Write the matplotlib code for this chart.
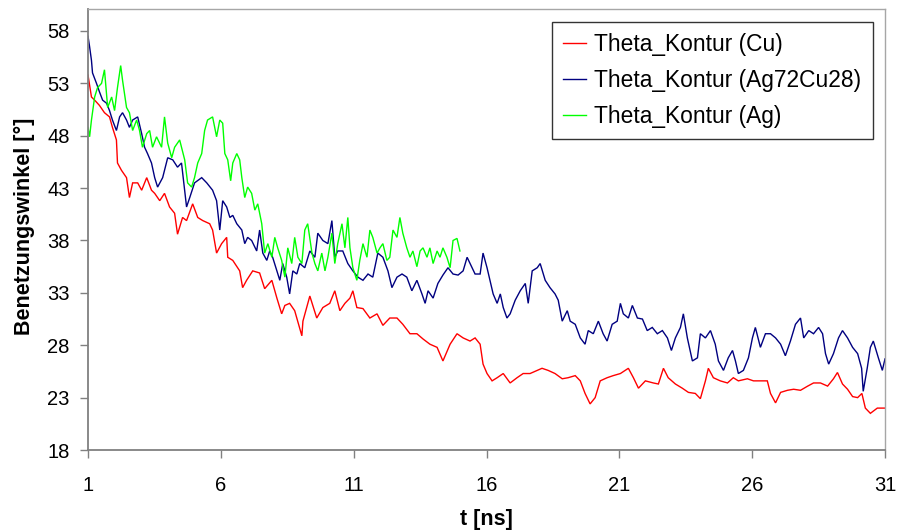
import matplotlib
matplotlib.use("Agg")
import matplotlib.pyplot as plt

# Benetzungswinkel über der Zeit für drei Tropfenzusammensetzungen
t_cu = [1.0, 1.13, 1.25, 1.43, 1.62, 1.81, 1.92, 2.07, 2.11, 2.26, 2.45, 2.56, 2.68, 2.87, 3.02,
        3.21, 3.39, 3.51, 3.70, 3.88, 4.07, 4.26, 4.37, 4.56, 4.71, 4.94, 5.13, 5.32, 5.58, 5.69,
        5.84, 6.03, 6.22, 6.26, 6.45, 6.71, 6.82, 6.97, 7.20, 7.46, 7.65, 7.92, 8.11, 8.29, 8.41,
        8.59, 8.78, 8.97, 9.05, 9.09, 9.35, 9.61, 9.84, 10.10, 10.29, 10.48, 10.67, 10.86, 10.97,
        11.12, 11.35, 11.61, 11.88, 12.10, 12.36, 12.63, 12.85, 13.12, 13.38, 13.61, 13.87, 14.14,
        14.36, 14.63, 14.89, 15.12, 15.38, 15.57, 15.76, 15.87, 16.02, 16.21, 16.40, 16.63, 16.89,
        17.15, 17.38, 17.64, 17.91, 18.09, 18.32, 18.58, 18.85, 19.07, 19.34, 19.53, 19.71, 19.90,
        20.09, 20.28, 20.54, 20.77, 21.04, 21.34, 21.53, 21.72, 21.98, 22.28, 22.47, 22.66, 22.84,
        23.11, 23.37, 23.60, 23.86, 24.05, 24.24, 24.35, 24.54, 24.80, 25.07, 25.29, 25.48, 25.82,
        26.05, 26.31, 26.57, 26.69, 26.88, 27.07, 27.33, 27.56, 27.82, 28.09, 28.31, 28.57, 28.84,
        29.06, 29.21, 29.40, 29.59, 29.78, 29.97, 30.13, 30.26, 30.45, 30.71, 31.0]
theta_cu = [53.8, 51.7, 51.4, 50.9, 50.2, 49.8, 48.8, 47.6, 45.4, 44.7, 44.0, 42.1, 43.5, 43.5, 42.8,
            44.0, 42.8, 42.5, 41.8, 42.5, 41.2, 40.6, 38.6, 40.2, 39.9, 41.5, 40.2, 39.9, 39.6, 39.0,
            36.8, 37.7, 38.3, 36.4, 36.1, 35.1, 33.5, 34.2, 35.1, 34.9, 33.4, 34.2, 32.5, 31.0, 31.8,
            32.0, 31.3, 29.6, 28.9, 30.3, 32.7, 30.6, 31.6, 32.0, 33.2, 31.3, 32.0, 32.5, 33.2,
            31.6, 31.5, 30.6, 31.0, 29.9, 30.6, 30.6, 30.0, 29.1, 29.1, 28.6, 28.1, 27.8,
            26.5, 28.1, 29.1, 28.7, 28.4, 28.7, 28.1, 26.2, 25.3, 24.6, 24.9, 25.3, 24.4,
            24.9, 25.3, 25.3, 25.6, 25.8, 25.6, 25.3, 24.8, 24.9, 25.1, 24.6, 23.4, 22.4,
            23.0, 24.6, 24.9, 25.1, 25.3, 25.8, 24.9, 23.9, 24.6, 24.4, 24.3, 25.8, 24.9,
            24.3, 23.9, 23.5, 23.4, 22.9, 24.6, 25.8, 24.9, 24.6, 24.4, 24.9, 24.6, 24.8,
            24.6, 24.6, 24.6, 23.4, 22.5, 23.5, 23.7, 23.8, 23.7, 24.1, 24.4, 24.4, 24.1,
            24.8, 25.4, 24.3, 23.8, 23.1, 23.0, 23.4, 22.0, 21.5, 22.0, 22.0]

t_agcu = [1.0, 1.06, 1.13, 1.17, 1.32, 1.43, 1.55, 1.70, 1.81, 1.92, 2.07, 2.19, 2.30, 2.45, 2.56,
          2.68, 2.87, 3.02, 3.13, 3.24, 3.39, 3.51, 3.62, 3.81, 4.00, 4.19, 4.37, 4.52, 4.71, 4.83,
          5.01, 5.28, 5.47, 5.69, 5.84, 5.96, 6.07, 6.22, 6.34, 6.45, 6.60, 6.79, 6.90, 7.01, 7.16,
          7.35, 7.46, 7.58, 7.73, 7.84, 7.95, 8.11, 8.22, 8.33, 8.48, 8.59, 8.71, 8.86, 8.97, 9.16,
          9.35, 9.54, 9.65, 9.84, 10.03, 10.18, 10.29, 10.40, 10.59, 10.78, 10.97, 11.16, 11.35,
          11.54, 11.72, 11.91, 12.10, 12.29, 12.44, 12.63, 12.82, 13.00, 13.19, 13.38, 13.57, 13.69,
          13.80, 13.99, 14.17, 14.36, 14.55, 14.74, 14.93, 15.12, 15.27, 15.46, 15.57, 15.76, 15.87,
          16.02, 16.13, 16.25, 16.40, 16.52, 16.63, 16.77, 16.89, 17.08, 17.27, 17.46, 17.57, 17.72,
          17.91, 18.02, 18.21, 18.39, 18.58, 18.70, 18.85, 19.04, 19.15, 19.34, 19.53, 19.71, 19.83,
          20.02, 20.21, 20.39, 20.54, 20.73, 20.92, 21.04, 21.15, 21.34, 21.49, 21.68, 21.87, 22.05,
          22.24, 22.43, 22.62, 22.81, 22.96, 23.11, 23.30, 23.41, 23.56, 23.75, 23.94, 24.05, 24.24,
          24.43, 24.61, 24.73, 24.92, 25.10, 25.26, 25.37, 25.48, 25.67, 25.86, 26.01, 26.12, 26.31,
          26.50, 26.69, 26.88, 27.07, 27.25, 27.44, 27.63, 27.82, 27.94, 28.13, 28.31, 28.50, 28.65,
          28.76, 28.88, 29.06, 29.25, 29.40, 29.59, 29.78, 29.97, 30.12, 30.18, 30.33, 30.45, 30.56,
          30.75, 30.90, 31.0]
theta_agcu = [57.5, 56.5, 55.2, 54.0, 53.0, 52.2, 51.4, 51.1, 50.4, 49.5, 48.5, 49.8, 50.2, 49.5, 48.8,
              49.5, 49.8, 48.2, 46.9, 46.3, 45.4, 44.0, 43.1, 44.0, 45.9, 45.7, 45.0, 45.4, 41.2, 42.1,
              43.5, 44.0, 43.5, 42.8, 41.8, 39.0, 41.8, 41.2, 40.2, 40.4, 39.6, 39.0, 37.7, 38.3, 38.0,
              37.0, 39.0, 36.8, 36.1, 37.0, 36.4, 35.1, 34.2, 35.8, 34.5, 32.9, 35.1, 34.8, 35.8, 35.4,
              37.0, 36.4, 38.7, 38.0, 37.7, 39.9, 36.4, 37.0, 37.0, 35.8, 35.1, 34.5, 34.2,
              34.8, 34.5, 36.8, 36.4, 35.1, 33.5, 34.5, 34.8, 34.5, 33.2, 34.2, 32.9, 32.0,
              33.2, 32.5, 33.9, 34.7, 35.4, 34.8, 34.7, 35.1, 36.4, 35.4, 34.8, 34.8, 36.8,
              35.4, 34.2, 32.9, 32.0, 32.9, 31.6, 30.6, 31.0, 32.3, 33.2, 33.9, 32.0, 35.1,
              35.4, 35.8, 34.2, 33.5, 32.9, 32.3, 30.3, 31.3, 30.3, 30.0, 28.7, 28.1, 29.4,
              29.1, 30.3, 29.1, 28.4, 30.0, 30.3, 32.0, 31.0, 30.6, 31.8, 30.6, 30.5, 29.4,
              29.7, 29.1, 29.4, 28.7, 27.5, 28.7, 29.7, 31.0, 28.7, 26.5, 26.8, 29.1, 28.7,
              29.4, 28.1, 26.5, 25.6, 26.8, 27.5, 26.5, 25.3, 25.6, 26.8, 28.7, 29.7, 27.8,
              29.1, 29.1, 28.7, 28.1, 27.0, 28.4, 30.0, 30.6, 28.7, 29.4, 29.1, 29.7, 29.1,
              27.2, 26.2, 27.2, 28.7, 29.4, 28.7, 27.8, 27.2, 25.8, 23.6, 25.8, 27.8, 28.4,
              26.8, 25.6, 26.7]

t_ag = [1.0, 1.06, 1.13, 1.25, 1.36, 1.51, 1.62, 1.74, 1.89, 2.00, 2.11, 2.23, 2.30, 2.45, 2.56,
        2.68, 2.83, 2.94, 3.05, 3.21, 3.32, 3.43, 3.58, 3.77, 3.88, 4.00, 4.15, 4.26, 4.45, 4.64,
        4.75, 4.90, 5.01, 5.13, 5.28, 5.39, 5.50, 5.69, 5.84, 5.96, 6.07, 6.15, 6.26, 6.37, 6.45,
        6.60, 6.71, 6.79, 6.90, 7.01, 7.16, 7.28, 7.39, 7.54, 7.65, 7.77, 7.92, 8.03, 8.14, 8.29,
        8.41, 8.52, 8.67, 8.78, 8.90, 9.05, 9.16, 9.27, 9.43, 9.54, 9.65, 9.80, 9.92, 10.03, 10.18,
        10.29, 10.40, 10.56, 10.67, 10.78, 10.86, 10.97, 11.12, 11.23, 11.35, 11.50, 11.61, 11.72,
        11.88, 11.99, 12.10, 12.25, 12.36, 12.48, 12.63, 12.74, 12.85, 13.00, 13.12, 13.23, 13.38,
        13.50, 13.61, 13.76, 13.87, 13.99, 14.14, 14.25, 14.36, 14.51, 14.63, 14.74, 14.89, 15.00]
theta_ag = [48.8, 47.9, 49.5, 51.7, 52.6, 53.0, 54.3, 50.7, 51.7, 50.4, 52.6, 54.7, 53.3, 50.7, 50.2,
            48.5, 49.5, 48.5, 46.9, 48.2, 48.5, 46.9, 47.9, 46.9, 49.8, 47.3, 45.9, 46.9, 47.6, 45.7,
            43.5, 43.1, 44.0, 45.4, 46.3, 48.5, 49.5, 49.8, 47.9, 49.5, 49.2, 46.3, 45.7, 43.7, 45.4,
            46.3, 45.7, 44.0, 42.1, 43.1, 42.5, 40.9, 41.5, 39.6, 36.8, 37.7, 36.4, 38.3, 37.3, 36.1,
            34.5, 37.3, 35.8, 38.3, 36.4, 35.8, 39.0, 39.6, 36.8, 35.8, 35.1, 36.8, 35.1, 36.4, 38.7,
            35.8, 37.7, 39.6, 37.3, 40.2, 37.3, 35.4, 34.2, 36.1, 37.7, 36.4, 39.0, 38.3,
            36.8, 37.3, 37.7, 36.1, 36.4, 39.0, 38.3, 40.2, 38.7, 37.3, 36.4, 37.0, 35.5,
            37.0, 37.3, 36.4, 37.3, 35.8, 37.0, 36.4, 37.3, 36.4, 35.4, 38.0, 38.2, 37.0]

series_labels = ["Theta_Kontur (Cu)", "Theta_Kontur (Ag72Cu28)", "Theta_Kontur (Ag)"]
series_colors = ["#ff0000", "#000080", "#00ff00"]
x_ticks = [1, 6, 11, 16, 21, 26, 31]
y_ticks = [18, 23, 28, 33, 38, 43, 48, 53, 58]

plt.rcParams["font.family"] = ["Liberation Sans", "DejaVu Sans"]

W, H = 897, 530
fig = plt.figure(figsize=(W / 100, H / 100), dpi=100)
fig.patch.set_facecolor("white")
ax = fig.add_axes([88 / W, 1 - 450 / H, (885 - 88) / W, (450 - 9) / H])

for t, v, lab, col in zip([t_cu, t_agcu, t_ag], [theta_cu, theta_agcu, theta_ag],
                          series_labels, series_colors):
    ax.plot(t, v, color=col, lw=1.0, label=lab, solid_joinstyle="miter")

ax.set_xlim(1, 31)
ax.set_ylim(18, 60.1)
ax.set_xticks(x_ticks)
ax.set_yticks(y_ticks)
ax.tick_params(axis="both", direction="out", length=5.8, width=1.0, color="#808080",
               labelsize=14.5, labelcolor="black")
ax.tick_params(axis="y", pad=7.5)
ax.tick_params(axis="x", pad=13)

for side in ("left", "bottom"):
    ax.spines[side].set_color("#808080")
    ax.spines[side].set_linewidth(1.3)
for side in ("top", "right"):
    ax.spines[side].set_color("#a6a6a6")
    ax.spines[side].set_linewidth(1.0)

fig.text(486 / W, 1 - 519 / H, "t [ns]", ha="center", va="center",
         fontsize=15.5, fontweight="bold")
fig.text(24 / W, 1 - 226 / H, "Benetzungswinkel [°]", ha="center", va="center",
         rotation=90, fontsize=15.5, fontweight="bold")

leg = ax.legend(loc="upper left", bbox_to_anchor=(552 / W, 1 - 22 / H),
                bbox_transform=fig.transFigure, fontsize=16.4, frameon=True,
                fancybox=False, borderpad=0.5, labelspacing=0.56, handlelength=1.0,
                handletextpad=0.35, borderaxespad=0.0)
leg.get_frame().set_edgecolor("black")
leg.get_frame().set_linewidth(1.0)
for line in leg.get_lines():
    line.set_linewidth(1.0)

fig.savefig("out.png", dpi=100, facecolor="white")
